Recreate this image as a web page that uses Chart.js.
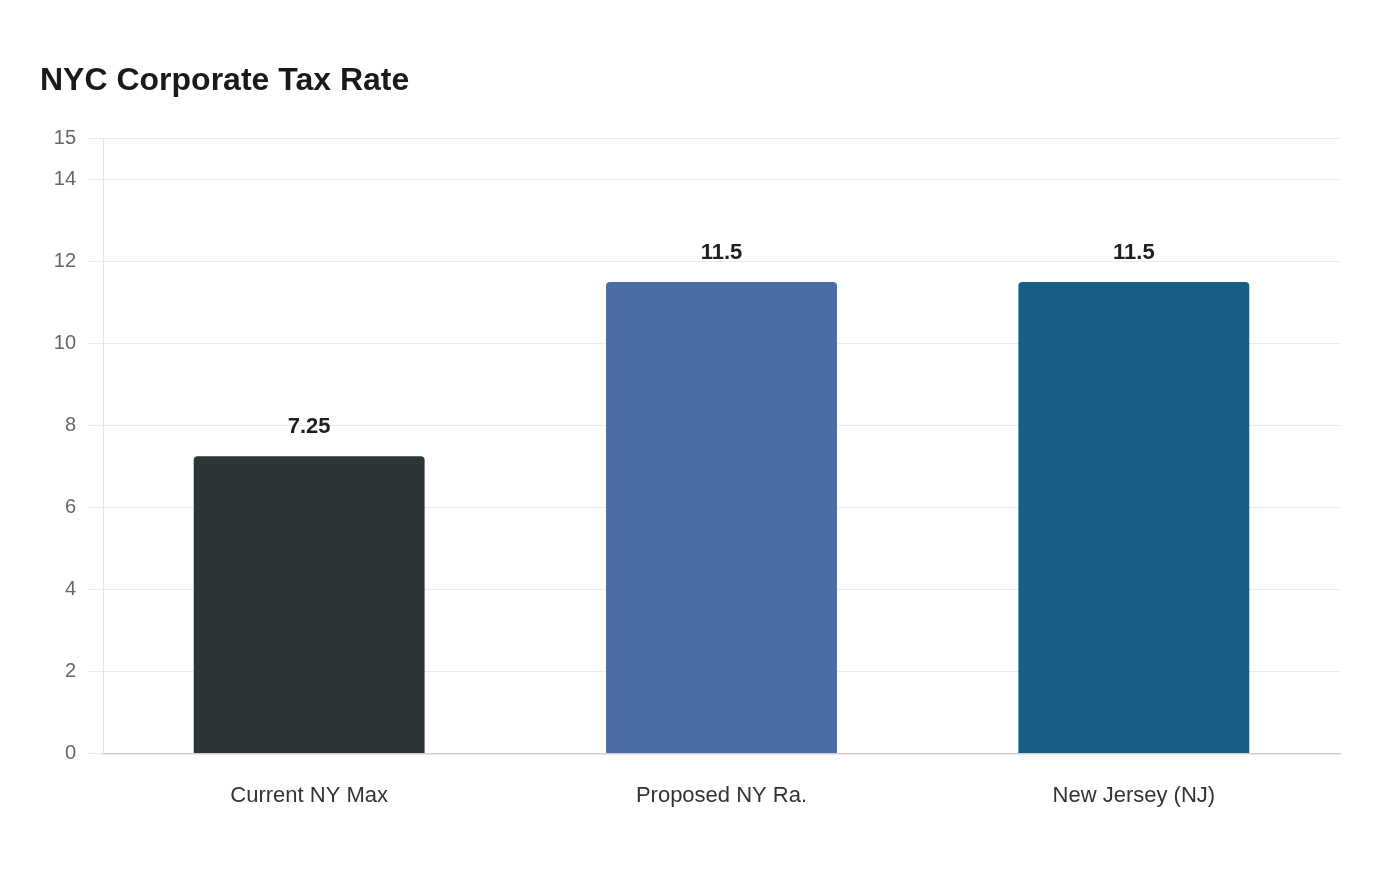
<!DOCTYPE html>
<html>
<head>
<meta charset="utf-8">
<script src="https://cdn.jsdelivr.net/npm/chart.js@4.4.1/dist/chart.umd.min.js"></script>
<style>
  html, body { margin: 0; padding: 0; background: #ffffff; }
  #wrap { width: 1400px; height: 880px; }
</style>
</head>
<body>
<div id="wrap"><canvas id="tax-canvas" width="1400" height="880"></canvas></div>
<script>
// chart data
const categories = ['Current NY Max', 'Proposed NY Ra.', 'New Jersey (NJ)']
const taxRates = [7.25, 11.5, 11.5]
const barColors = ['#2d3537', '#4a6da3', '#175f87']
const yTicks = [0, 2, 4, 6, 8, 10, 12, 14, 15]

// draws the value above each bar (no datalabels plugin available offline)
const valueLabels = {
    id: 'valueLabels',
    afterDatasetsDraw(chart) {
        let ctx = chart.ctx
        let meta = chart.getDatasetMeta(0)
        ctx.save()
        ctx.font = 'bold 22px "Liberation Sans", Arial, sans-serif'
        ctx.fillStyle = '#1f1f1f'
        ctx.textAlign = 'center'
        ctx.textBaseline = 'middle'
        meta.data.forEach((bar, i) => {
            ctx.fillText(String(chart.data.datasets[0].data[i]), bar.x, bar.y - 29)
        })
        ctx.restore()
    }
}

function initChart()
{
    let ctx = document.getElementById('tax-canvas').getContext('2d')
    return new Chart(ctx, {
        type: 'bar',
        data: {
            labels: categories,
            datasets: [{
                data: taxRates,
                backgroundColor: barColors,
                borderRadius: 4,
                borderSkipped: 'start',
                categoryPercentage: 0.8,
                barPercentage: 0.7
            }]
        },
        options: {
            responsive: false,
            animation: false,
            layout: {
                padding: { top: 62, left: 40, right: 60, bottom: 50 }
            },
            plugins: {
                legend: { display: false },
                tooltip: { enabled: false },
                title: {
                    display: true,
                    text: 'NYC Corporate Tax Rate',
                    align: 'start',
                    color: '#1a1a1a',
                    font: { family: '"Liberation Sans", Arial, sans-serif', size: 32, weight: 'bold' },
                    padding: { top: 0, bottom: 38 }
                }
            },
            scales: {
                x: {
                    grid: { display: false },
                    border: { display: true, color: '#cfcfcf', width: 1.5 },
                    ticks: {
                        color: '#333333',
                        padding: 21,
                        font: { family: '"Liberation Sans", Arial, sans-serif', size: 22 }
                    }
                },
                y: {
                    min: 0,
                    max: 15,
                    afterBuildTicks: (scale) => {
                        scale.ticks = yTicks.map(v => ({ value: v }))
                    },
                    afterFit: (scale) => {
                        scale.width = 63
                    },
                    grid: { color: '#ebebeb', tickLength: 15 },
                    border: { display: true, color: '#e3e3e3' },
                    ticks: {
                        color: '#666666',
                        padding: 12,
                        font: { family: '"Liberation Sans", Arial, sans-serif', size: 20 }
                    }
                }
            }
        },
        plugins: [valueLabels]
    })
}

initChart()
</script>
</body>
</html>
